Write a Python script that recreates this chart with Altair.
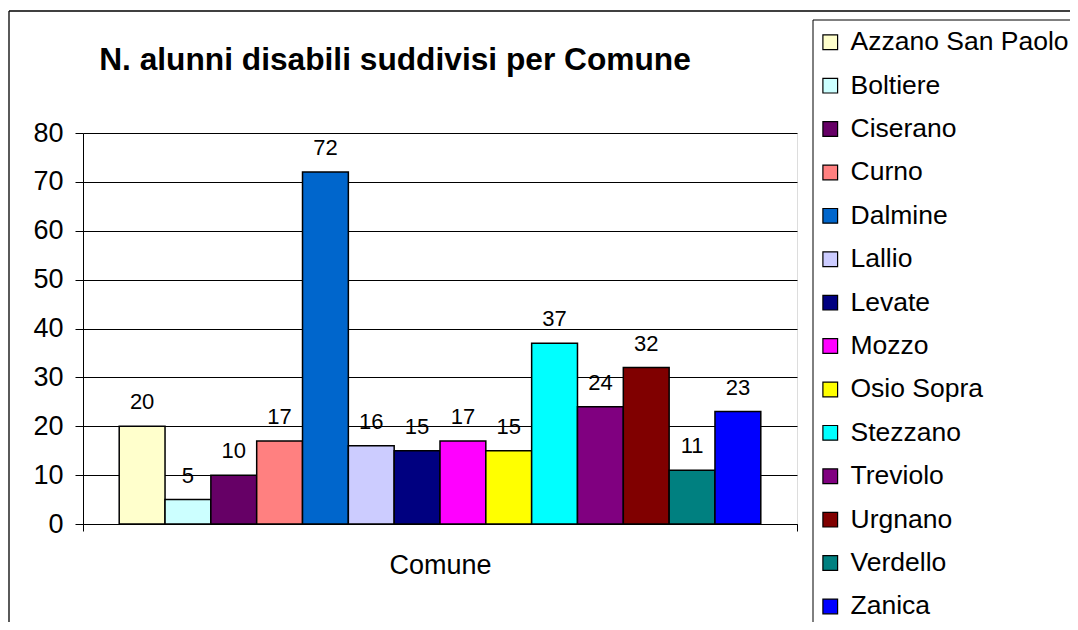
import altair as alt
import pandas as pd

comuni = ["Azzano San Paolo", "Boltiere", "Ciserano", "Curno", "Dalmine", "Lallio",
          "Levate", "Mozzo", "Osio Sopra", "Stezzano", "Treviolo", "Urgnano",
          "Verdello", "Zanica"]
alunni = [20, 5, 10, 17, 72, 16, 15, 17, 15, 37, 24, 32, 11, 23]
colori = ["#FFFFCC", "#CCFFFF", "#660066", "#FF8080", "#0066CC", "#CCCCFF",
          "#000080", "#FF00FF", "#FFFF00", "#00FFFF", "#800080", "#800000",
          "#008080", "#0000FF"]
categoria = "Comune"
titolo = "N. alunni disabili suddivisi per Comune"
y_ticks = [0, 10, 20, 30, 40, 50, 60, 70, 80]

df = pd.DataFrame({"cat": [categoria] * len(comuni), "serie": comuni, "valore": alunni})

FONT = "Liberation Sans"

x_enc = alt.X("cat:N", scale=alt.Scale(paddingInner=0, paddingOuter=0),
              axis=alt.Axis(title=None, labelFontSize=27, labelColor="black",
                            labelFont=FONT, labelPadding=21, tickBand="extent",
                            tickSize=7, tickColor="black", domainColor="black",
                            labelAngle=0, grid=False))
xo_enc = alt.XOffset("serie:N", sort=comuni,
                     scale=alt.Scale(paddingInner=0, paddingOuter=0.79))
y_enc = alt.Y("valore:Q", scale=alt.Scale(domain=[0, 80], nice=False),
              axis=alt.Axis(title=None, values=y_ticks, labelFontSize=27,
                            labelFont=FONT, labelColor="black", labelPadding=12,
                            tickSize=8, tickColor="black", domainColor="black",
                            grid=True, gridColor="black", gridWidth=1))

bars = alt.Chart(df).mark_bar(stroke="black", strokeWidth=1.5, opacity=1).encode(
    x=x_enc, xOffset=xo_enc, y=y_enc,
    color=alt.Color("serie:N", sort=comuni,
                    scale=alt.Scale(domain=comuni, range=colori),
                    legend=alt.Legend(title=None, orient="none", legendX=724, legendY=-114,
                                      labelFontSize=26.5, labelFont=FONT, labelColor="black",
                                      symbolType="square", symbolSize=216,
                                      symbolStrokeColor="black", symbolStrokeWidth=1.2,
                                      symbolOpacity=1, labelOffset=7, rowPadding=16.4,
                                      padding=10, labelLimit=400)))

labels = alt.Chart(df).mark_text(baseline="alphabetic", dy=-17, fontSize=22,
                                 font=FONT, color="black").encode(
    x=alt.X("cat:N"), xOffset=xo_enc, y=alt.Y("valore:Q"), text="valore:Q")

title_mark = alt.Chart(df.head(1)).mark_text(
    align="center", baseline="alphabetic", fontSize=31.7, fontWeight="bold",
    font=FONT, color="black").encode(
    x=alt.value(312), y=alt.value(-63), text=alt.value(titolo))

rule_style = dict(color="black", strokeWidth=1.3)
border_top = alt.Chart(df.head(1)).mark_rule(**rule_style).encode(
    x=alt.value(-74), x2=alt.value(1010), y=alt.value(-122))
border_left = alt.Chart(df.head(1)).mark_rule(**rule_style).encode(
    x=alt.value(-74), y=alt.value(-122), y2=alt.value(600))
legend_top = alt.Chart(df.head(1)).mark_rule(color="black", strokeWidth=1).encode(
    x=alt.value(730), x2=alt.value(1010), y=alt.value(-113))
legend_left = alt.Chart(df.head(1)).mark_rule(color="black", strokeWidth=1).encode(
    x=alt.value(730), y=alt.value(-113), y2=alt.value(600))

chart = alt.layer(bars, labels, title_mark, border_top, border_left,
                  legend_top, legend_left).properties(
    width=714, height=391,
    autosize=alt.AutoSizeParams(type="none"),
    padding={"left": 75, "top": 125, "right": 273, "bottom": 98},
).configure_view(fill="#C0C0C0", stroke="#808080", strokeWidth=1
).configure(background="white")

chart.save("out.html", embed_options={"renderer": "svg", "actions": False})
